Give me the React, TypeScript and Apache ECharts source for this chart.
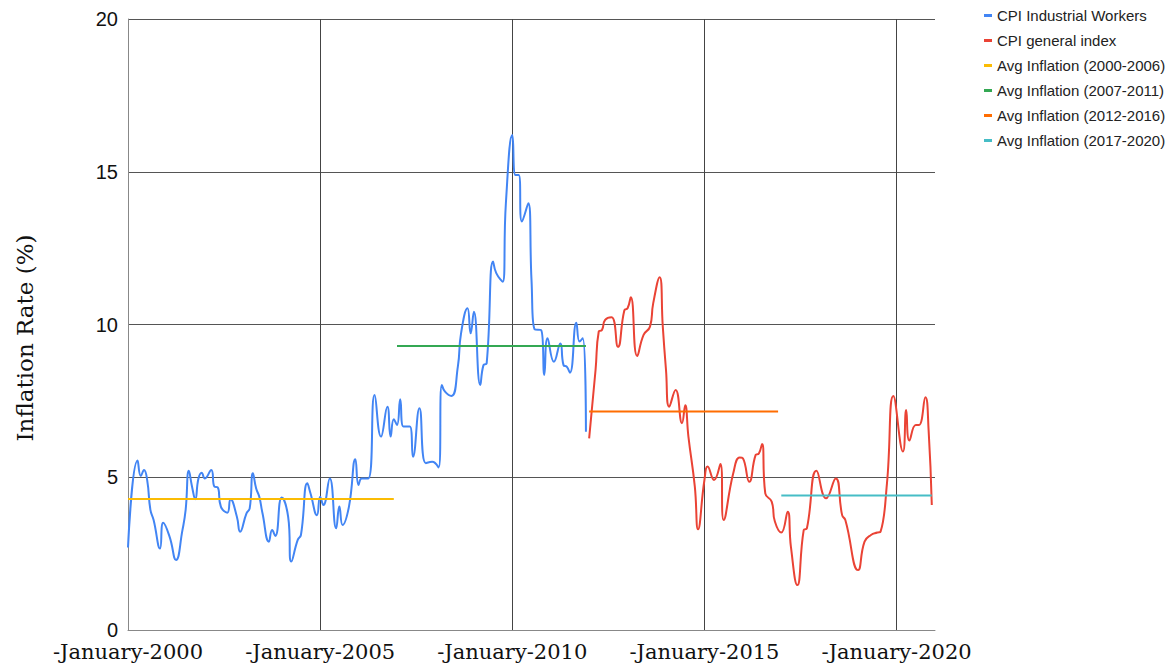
import React, { useEffect, useRef } from "react";
import * as echarts from "echarts";

// Month index counted from January 2000 (0 = Jan 2000)
const cpiIwMonths = [0, 3, 4, 5, 6, 7, 8, 10, 11, 13, 15, 17, 18, 19, 20, 21, 22, 23, 24, 26, 27, 28, 29, 31, 32, 34, 35, 37, 38, 39, 40, 41, 42, 44, 45, 46, 48, 50, 51, 53, 54, 56, 57, 59, 60, 61, 63, 65, 66, 67, 69, 71, 72, 73, 75, 77, 79, 81, 82, 83, 84, 85, 86, 88, 89, 91, 93, 95, 97, 98, 99, 101, 103, 104, 106, 107, 108, 110, 111, 112, 114, 115, 117, 118, 120, 121, 122, 123, 125, 126, 127, 129, 130, 131, 133, 135, 136, 137, 138, 140, 141, 142, 143];
const cpiIwValues = [2.7, 5.55, 5.04, 5.24, 4.9, 3.93, 3.6, 2.67, 3.51, 3.05, 2.29, 3.27, 3.93, 5.21, 4.69, 4.28, 4.96, 5.15, 4.96, 5.24, 4.69, 4.67, 4.04, 3.84, 4.28, 3.71, 3.22, 3.82, 3.98, 5.13, 4.64, 4.36, 3.82, 2.89, 3.27, 3.08, 4.34, 3.71, 2.24, 2.95, 3.11, 4.8, 4.47, 3.76, 4.36, 4.09, 4.96, 3.33, 4.04, 3.44, 4.04, 5.59, 4.75, 4.96, 4.96, 7.69, 6.33, 7.31, 6.33, 6.9, 6.71, 7.55, 6.66, 6.66, 5.67, 7.26, 5.46, 5.51, 5.32, 8.02, 7.8, 7.66, 8.62, 9.71, 10.53, 9.71, 10.42, 8.02, 8.67, 8.73, 12.06, 11.68, 11.4, 13.97, 16.2, 14.89, 14.89, 13.37, 13.97, 11.46, 9.84, 9.82, 8.35, 9.55, 8.78, 9.38, 8.67, 8.62, 8.42, 10.06, 9.44, 9.55, 6.49];

const cpiGenMonths = [144, 146, 147, 148, 149, 151, 153, 155, 156, 157, 159, 161, 163, 164, 166, 167, 168, 169, 171, 173, 174, 175, 177, 178, 180, 181, 183, 185, 186, 189, 191, 192, 194, 196, 197, 198, 199, 201, 202, 204, 206, 207, 209, 211, 212, 215, 218, 221, 223, 224, 228, 230, 232, 234, 235, 237, 239, 242, 243, 244, 246, 247, 249, 250, 251];
const cpiGenValues = [6.27, 8.51, 9.77, 9.82, 10.15, 10.24, 9.27, 10.47, 10.53, 10.89, 8.97, 9.66, 9.93, 10.69, 11.55, 9.93, 8.51, 7.31, 7.86, 6.77, 7.36, 6.33, 4.69, 3.3, 4.91, 5.35, 4.91, 5.43, 3.6, 5.13, 5.65, 5.62, 4.85, 5.73, 5.78, 6.09, 4.47, 4.2, 3.55, 3.19, 3.87, 2.73, 1.47, 3.27, 3.33, 5.21, 4.31, 4.96, 3.76, 3.6, 1.96, 2.89, 3.11, 3.19, 3.22, 4.8, 7.66, 5.84, 7.2, 6.2, 6.71, 6.71, 7.62, 6.55, 4.09];

const avgNames = ["Avg Inflation (2000-2006)", "Avg Inflation (2007-2011)", "Avg Inflation (2012-2016)", "Avg Inflation (2017-2020)"];
const avgValues = [4.29, 9.3, 7.15, 4.4];
const avgStartMonths = [0, 84, 144, 204];
const avgEndMonths = [83, 143, 203, 251];

const yTicks = [0, 5, 10, 15, 20];
const xTickYears = [2000, 2005, 2010, 2015, 2020];

const colors = ["#4285F4", "#EA4335", "#FBBC04", "#34A853", "#FF6D01", "#46BDC6"];

const toYear = (m: number) => 2000 + m / 12;

export default function App() {
  const ref = useRef<HTMLDivElement>(null);
  useEffect(() => {
    if (!ref.current) return;
    const chart = echarts.init(ref.current, undefined, { renderer: "svg" });
    const lineSeries = (name: string, months: number[], values: number[], color: string, smooth: boolean) => ({
      name,
      type: "line",
      data: months.map((m, i) => [toYear(m), values[i]]),
      smooth,
      showSymbol: false,
      symbol: "none",
      lineStyle: { color, width: 2 },
      itemStyle: { color },
      z: 3,
    });
    const series: any[] = [
      lineSeries("CPI Industrial Workers", cpiIwMonths, cpiIwValues, colors[0], true),
      lineSeries("CPI general index", cpiGenMonths, cpiGenValues, colors[1], true),
      ...avgNames.map((n, i) =>
        lineSeries(n, [avgStartMonths[i], avgEndMonths[i]], [avgValues[i], avgValues[i]], colors[2 + i], false)
      ),
    ];
    chart.setOption({
      animation: false,
      backgroundColor: "#ffffff",
      grid: { left: 128, right: 236, top: 19, bottom: 41, containLabel: false },
      legend: {
        orient: "vertical",
        left: 979,
        top: 3,
        icon: "rect",
        itemWidth: 8,
        itemHeight: 3,
        itemGap: 10,
        data: [
          "CPI Industrial Workers",
          "CPI general index",
          ...avgNames,
        ],
        textStyle: { fontFamily: "Liberation Sans, Arial, sans-serif", fontSize: 15, color: "#222" },
      },
      xAxis: {
        type: "value",
        min: xTickYears[0],
        max: 2021,
        interval: 5,
        axisLine: { show: true, lineStyle: { color: "#888", width: 1 } },
        axisTick: { show: false },
        splitLine: { show: true, showMaxLine: false, lineStyle: { color: "#444", width: 1 } },
        axisLabel: {
          showMaxLabel: false,
          margin: 11,
          formatter: (v: number) => "-January-" + v,
          fontFamily: "DejaVu Serif, Georgia, serif",
          fontSize: 21,
          color: "#111",
        },
      },
      yAxis: {
        type: "value",
        min: yTicks[0],
        max: yTicks[yTicks.length - 1],
        interval: 5,
        axisLine: { show: true, lineStyle: { color: "#888", width: 1 } },
        axisTick: { show: false },
        splitLine: { show: true, lineStyle: { color: "#555", width: 1 } },
        axisLabel: {
          margin: 10,
          fontFamily: "Liberation Sans, Arial, sans-serif",
          fontSize: 20,
          color: "#111",
        },
      },
      graphic: [
        {
          type: "text",
          x: 25,
          y: 338,
          rotation: Math.PI / 2,
          style: {
            text: "Inflation Rate (%)",
            fontFamily: "DejaVu Serif, Georgia, serif",
            fontSize: 23,
            fill: "#111",
            align: "center",
            verticalAlign: "middle",
          },
        },
      ],
      series,
    });
    return () => chart.dispose();
  }, []);
  return <div ref={ref} style={{ width: 1171, height: 671, position: "absolute", left: 0, top: 0 }} />;
}
